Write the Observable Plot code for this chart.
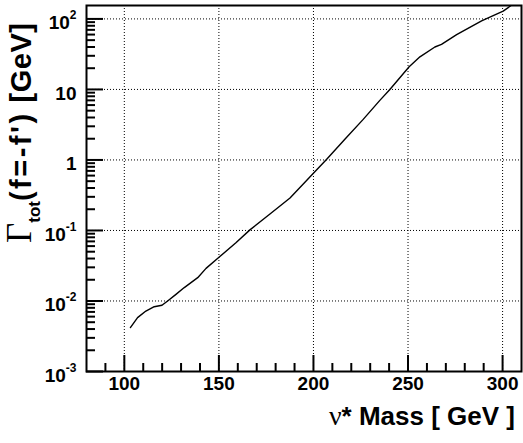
<!DOCTYPE html>
<html><head><meta charset="utf-8">
<script src="https://cdn.jsdelivr.net/npm/d3@7"></script>
<script src="https://cdn.jsdelivr.net/npm/@observablehq/plot@0.6"></script>
<style>html,body{margin:0;padding:0;background:#fff}svg{display:block}</style>
</head><body><div id="chart"></div>
<script>
// ν* mass [GeV]
const mass = [103.2, 107.0, 111.4, 115.8, 119.9, 122.9, 127.3, 131.7, 138.8, 143.2, 150.2, 159.0, 166.4, 177.0, 187.6, 199.6, 207.0, 216.6, 226.3, 235.1, 240.4, 250.6, 256.3, 264.2, 267.7, 275.7, 288.9, 300.3, 304.5];
// Γtot [GeV]
const gammaTot = [0.0042, 0.0058, 0.0072, 0.0083, 0.0087, 0.0100, 0.0124, 0.0155, 0.0214, 0.029, 0.042, 0.067, 0.102, 0.171, 0.288, 0.63, 1.02, 1.96, 3.76, 7.0, 10, 21, 29, 40, 43.6, 60, 94, 129, 155];

const xMajor = [100, 150, 200, 250, 300];
const xMinor = [90, 110, 120, 130, 140, 160, 170, 180, 190, 210, 220, 230, 240, 260, 270, 280, 290];
const yMajor = [1e-3, 1e-2, 1e-1, 1, 10, 100];
const yTickBase = ["10", "10", "10", "1", "10", "10"];
const yTickExp = ["-3", "-2", "-1", "", "", "2"];
const yMinorMult = [2, 3, 4, 5, 6, 7, 8, 9];
const yMinor = yMajor.slice(0, 5).flatMap(d => yMinorMult.map(k => k * d));

const W = 523, H = 443, mL = 86, mR = 2, mT = 5, mB = 72;
const innerW = W - mL - mR, innerH = H - mT - mB;
const data = mass.map((m, i) => ({m, g: gammaTot[i]}));
const idx = d => yMajor.findIndex(v => Math.abs(Math.log10(v) - Math.log10(d)) < 1e-6);
const font = "'Liberation Sans', Arial, Helvetica, sans-serif";
const serif = "'Liberation Serif', 'Times New Roman', serif";

const chart = Plot.plot({
  width: W, height: H,
  marginLeft: mL, marginRight: mR, marginTop: mT, marginBottom: mB,
  style: {fontFamily: font, background: "white", color: "black", overflow: "visible"},
  x: {domain: [80, 310]},
  y: {type: "log", domain: [1e-3, 155]},
  marks: [
    Plot.gridX(xMajor, {stroke: "black", strokeOpacity: 1, strokeWidth: 1, strokeDasharray: "1,2"}),
    Plot.gridY(yMajor.slice(1), {stroke: "black", strokeOpacity: 1, strokeWidth: 1, strokeDasharray: "1,2"}),
    Plot.ruleX(xMajor, {x: d => d, insetTop: innerH - 16, stroke: "black", strokeWidth: 2}),
    Plot.ruleX(xMinor, {x: d => d, insetTop: innerH - 8, stroke: "black", strokeWidth: 2}),
    Plot.ruleY(yMajor, {y: d => d, insetRight: innerW - 17, stroke: "black", strokeWidth: 2}),
    Plot.ruleY(yMinor, {y: d => d, insetRight: innerW - 9, stroke: "black", strokeWidth: 2}),
    Plot.line(data, {x: "m", y: "g", stroke: "black", strokeWidth: 1.4, clip: true}),
    Plot.axisX(xMajor, {tickSize: 0, tickPadding: 5, fontSize: 19, fontWeight: "bold", label: null}),
    Plot.axisY(yMajor, {tickSize: 0, tickPadding: 10, fontSize: 19, fontWeight: "bold", label: null, dy: 4,
      tickFormat: d => yTickBase[idx(d)]}),
    Plot.frame({stroke: "black", strokeWidth: 2})
  ]
});

const svg = d3.select(chart);
svg.selectAll('g[aria-label="y-axis tick label"] text').each(function(_, i) {
  const v = yTickExp[i];
  if (v) d3.select(this).append("tspan").attr("dy", -10).attr("font-size", 12).text(v);
});

const xt = svg.append("text")
  .attr("x", 515).attr("y", 425)
  .attr("text-anchor", "end")
  .attr("font-family", font).attr("font-weight", "bold").attr("font-size", 26)
  .attr("fill", "black");
xt.append("tspan").attr("font-family", serif).attr("font-weight", "normal").attr("font-size", 28).text("ν");
xt.append("tspan").text("* Mass [ GeV ]");

const yt = svg.append("text")
  .attr("transform", "translate(31,243) rotate(-90)")
  .attr("text-anchor", "start")
  .attr("font-family", font).attr("font-weight", "bold").attr("font-size", 29)
  .attr("fill", "black");
yt.append("tspan").attr("font-family", serif).attr("font-weight", "normal").attr("font-size", 35).text("Γ");
yt.append("tspan").attr("font-size", 17).attr("dy", 9).text("tot");
yt.append("tspan").attr("dy", -9).attr("letter-spacing", 2.5).text("(f=-f')");
yt.append("tspan").attr("dx", 9).attr("letter-spacing", 0.5).text("[GeV]");

document.getElementById("chart").appendChild(chart);
</script>
</body></html>
